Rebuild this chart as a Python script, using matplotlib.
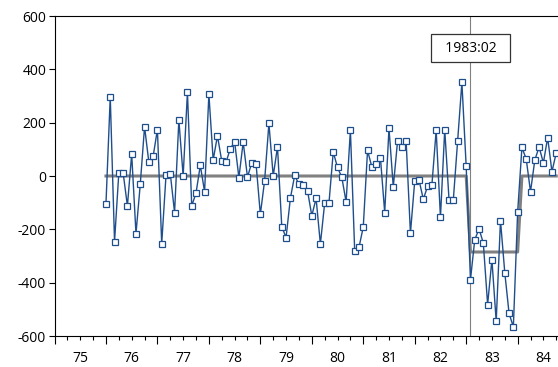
import numpy as np
import pandas as pd
import matplotlib
matplotlib.use("Agg")
import matplotlib.pyplot as plt
from matplotlib.ticker import MultipleLocator

plt.rcParams['font.family'] = ['Open Sans', 'DejaVu Sans']
plt.rcParams['axes.unicode_minus'] = False

# monthly sample, starts 1976:01
start = "1976-01"
resid = [
    -105, 297, -246, 12, 12, -112, 82, -216, -31, 185,
    52, 74, 174, -254, 2, 9, -137, 210, 0, 314,
    -112, -64, 40, -59, 307, 60, 151, 56, 52, 102,
    129, -6, 127, -4, 50, 46, -144, -17, 197, 0,
    109, -190, -231, -84, 2, -31, -35, -55, -149, -84,
    -255, -102, -102, 90, 32, -5, -97, 172, -280, -268,
    -191, 96, 34, 44, 69, -137, 179, -41, 131, 110,
    130, -215, -19, -15, -87, -39, -35, 171, -155, 174,
    -89, -90, 130, 351, 36, -389, -239, -198, -252, -482,
    -314, -545, -167, -362, -515, -566, -136, 107, 64, -59,
    59, 109, 49, 144, 16, 87,
]
# step dummy: 0 before 1983:02, shift during 1983:02-1984:01, 0 after
shift_level = -285
n_before, n_shift = 85, 12
step = [0] * n_before + [shift_level] * n_shift + [0] * (len(resid) - n_before - n_shift)

break_label = "1983:02"
year_labels = ["75", "76", "77", "78", "79", "80", "81", "82", "83", "84"]
year_first = 1975

months = pd.period_range(start, periods=len(resid), freq="M")
x = months.year + (months.month - 1) / 12.0
break_x = 1983 + 1 / 12.0

fig = plt.figure(figsize=(5.58, 3.67), dpi=100)
ax = fig.add_axes([54.5 / 558, 31 / 367, 1 - 54.5 / 558, 320 / 367])

ax.plot(x, step, color='#808080', linewidth=2.2, zorder=2)
ax.plot(x, resid, color='#1f4e8c', linewidth=1.0, marker='s', markersize=4,
        markerfacecolor='white', markeredgecolor='#1f4e8c', markeredgewidth=0.9, zorder=3)

ax.axvline(break_x, color='#808080', linewidth=0.8, zorder=1)
ax.text(break_x, 480, "  " + break_label + "  ", ha='center', va='center', fontsize=10,
        bbox=dict(boxstyle='square,pad=0.45', facecolor='white', edgecolor='#333333', linewidth=0.9),
        zorder=4)

years = np.arange(year_first, year_first + len(year_labels) + 1)
ax.set_xticks(years)
ax.set_xticklabels([])
ax.xaxis.set_minor_locator(MultipleLocator(0.25))
ax.tick_params(axis='x', which='major', direction='out', length=6, width=0.8)
ax.tick_params(axis='x', which='minor', direction='out', length=3, width=0.8)

# limits after the ticks, set_xticks would widen them
ax.set_xlim(year_first, year_first + (558 - 54.5) / 51.46)
ax.set_ylim(-600, 600)
ax.yaxis.set_major_locator(MultipleLocator(200))
ax.tick_params(axis='y', direction='out', length=4, width=0.8, labelsize=10, pad=2)

for i, lab in enumerate(year_labels):
    ax.text(year_first + i + 0.5, -0.07, lab, transform=ax.get_xaxis_transform(),
            ha='center', va='center', fontsize=10, clip_on=False)

ax.spines['right'].set_visible(False)
for s in ['left', 'top', 'bottom']:
    ax.spines[s].set_linewidth(0.8)

fig.savefig("out.png", dpi=100)
